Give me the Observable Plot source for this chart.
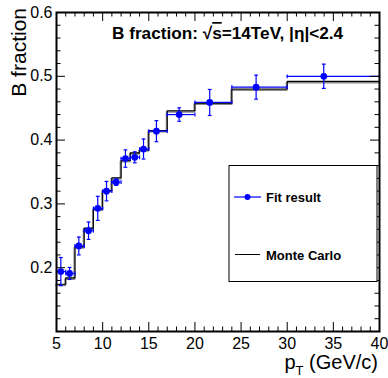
<!DOCTYPE html>
<html>
<head>
<meta charset="utf-8">
<script src="https://cdn.jsdelivr.net/npm/d3@7"></script>
<script src="https://cdn.jsdelivr.net/npm/@observablehq/plot@0.6"></script>
<style>
  html, body { margin: 0; padding: 0; background: #fff; }
  svg { display: block; }
</style>
</head>
<body>
<div id="chart"></div>
<script>
// ---- data ----
const binLo  = [5, 6, 7, 8, 9, 10, 11, 12, 13, 14, 15, 17, 20, 24, 30];
const binHi  = [6, 7, 8, 9, 10, 11, 12, 13, 14, 15, 17, 20, 24, 30, 40];
const ptMean = [5.47, 6.42, 7.42, 8.47, 9.47, 10.42, 11.47, 12.47, 13.48, 14.43, 15.83, 18.29, 21.6, 26.63, 33.96];
const fitVal = [0.194, 0.191, 0.234, 0.258, 0.293, 0.320, 0.334, 0.371, 0.373, 0.386, 0.414, 0.440, 0.459, 0.483, 0.500];
const fitErr = [0.022, 0.0094, 0.014, 0.0136, 0.0188, 0.0152, 0.005, 0.0136, 0.0086, 0.0157, 0.0165, 0.0105, 0.0204, 0.0188, 0.019];
const mcVal  = [0.174, 0.184, 0.233, 0.262, 0.292, 0.321, 0.341, 0.368, 0.380, 0.385, 0.415, 0.446, 0.458, 0.480, 0.492];
const xTicks = [5, 10, 15, 20, 25, 30, 35, 40];
const yTicks = [0.2, 0.3, 0.4, 0.5, 0.6];

const blue = "#0000ff";
const W = 388, H = 378;
const mt = 12, mr = 9, mb = 47, ml = 56;
const fh = H - mt - mb, fw = W - ml - mr;

const rows = ptMean.map((x, i) => ({x, y: fitVal[i], e: fitErr[i], lo: binLo[i], hi: binHi[i]}));
const mcRows = binLo.map((lo, i) => ({x: lo, y: mcVal[i]}));
mcRows.push({x: binHi[binHi.length - 1], y: mcVal[mcVal.length - 1]});

const xMinor = d3.range(5, 41, 1).filter(v => !xTicks.includes(v));
const yMinor = d3.range(0.12, 0.6, 0.02).filter(v => Math.abs(Math.round(v * 10) - v * 10) > 1e-6);

const vbar = {draw(ctx, size) { const r = Math.sqrt(size / Math.PI); ctx.moveTo(0, -r); ctx.lineTo(0, r); }};
const hbar = {draw(ctx, size) { const r = Math.sqrt(size / Math.PI); ctx.moveTo(-r, 0); ctx.lineTo(r, 0); }};

const capsX = rows.flatMap(d => [{x: d.lo, y: d.y}, {x: d.hi, y: d.y}]);
const capsY = rows.flatMap(d => [{x: d.x, y: d.y - d.e}, {x: d.x, y: d.y + d.e}]);

const font = "'Liberation Sans', Arial, Helvetica, sans-serif";

const svg = Plot.plot({
  width: W, height: H,
  marginTop: mt, marginRight: mr, marginBottom: mb, marginLeft: ml,
  style: {fontFamily: font, fontSize: "16px", color: "black", background: "white"},
  x: {domain: [5, 40]},
  y: {domain: [0.1, 0.6]},
  marks: [
    // MC histogram (shadow + line)
    Plot.line(mcRows, {x: "x", y: "y", curve: "step-after", stroke: "#8a8a8a", strokeWidth: 2, dy: 1, dx: -0.5}),
    Plot.line(mcRows, {x: "x", y: "y", curve: "step-after", stroke: "black", strokeWidth: 1.1}),
    // fit result error bars
    Plot.ruleY(rows, {x1: "lo", x2: "hi", y: "y", stroke: blue, strokeWidth: 1.2}),
    Plot.ruleX(rows, {x: "x", y1: d => d.y - d.e, y2: d => d.y + d.e, stroke: blue, strokeWidth: 1.2}),
    Plot.dot(capsX, {x: "x", y: "y", symbol: vbar, r: 1.9, fill: "none", stroke: blue, strokeWidth: 1.2}),
    Plot.dot(capsY, {x: "x", y: "y", symbol: hbar, r: 1.9, fill: "none", stroke: blue, strokeWidth: 1.2}),
    Plot.dot(rows, {x: "x", y: "y", r: 3.4, fill: blue}),
    // inward ticks on all four sides
    Plot.ruleX(xTicks, {insetTop: fh - 9, stroke: "black"}),
    Plot.ruleX(xMinor, {insetTop: fh - 4.5, stroke: "black"}),
    Plot.ruleX(xTicks, {insetBottom: fh - 9, stroke: "black"}),
    Plot.ruleX(xMinor, {insetBottom: fh - 4.5, stroke: "black"}),
    Plot.ruleY(yTicks, {insetRight: fw - 9, stroke: "black"}),
    Plot.ruleY(yMinor, {insetRight: fw - 4.5, stroke: "black"}),
    Plot.ruleY(yTicks, {insetLeft: fw - 9, stroke: "black"}),
    Plot.ruleY(yMinor, {insetLeft: fw - 4.5, stroke: "black"}),
    Plot.frame({stroke: "black", strokeWidth: 2}),
    Plot.axisX({ticks: xTicks, tickSize: 0, tickPadding: 6, fontSize: 16, label: null}),
    Plot.axisY({ticks: yTicks, tickSize: 0, tickPadding: 4, fontSize: 16, tickFormat: d3.format(".1f"), label: null})
  ]
});

const s = d3.select(svg);

// title inside the frame
const title = s.append("text")
  .attr("x", 112).attr("y", 39)
  .attr("text-anchor", "start")
  .attr("font-family", font).attr("font-weight", "bold").attr("font-size", 17.2)
  .attr("fill", "black");
title.append("tspan").text("B fraction: \u221A");
title.append("tspan").attr("text-decoration", "overline").style("text-decoration", "overline").text("s");
title.append("tspan").text("=14TeV, |\u03B7|<2.4");

// y axis label
s.append("text")
  .attr("transform", "translate(26,8) rotate(-90)")
  .attr("text-anchor", "end")
  .attr("font-family", font).attr("font-size", 21)
  .attr("fill", "black")
  .text("B fraction");

// x axis label
const xl = s.append("text")
  .attr("x", 378).attr("y", 369)
  .attr("text-anchor", "end")
  .attr("font-family", font).attr("font-size", 20)
  .attr("fill", "black");
xl.append("tspan").text("p");
xl.append("tspan").attr("font-size", 13).attr("dy", 6).text("T");
xl.append("tspan").attr("dy", -6).text(" (GeV/c)");

// legend
const lg = s.append("g").attr("text-anchor", "start");
lg.append("rect").attr("x", 229).attr("y", 165.5).attr("width", 148).attr("height", 116)
  .attr("fill", "white").attr("stroke", "black").attr("stroke-width", 1);
lg.append("line").attr("x1", 234).attr("x2", 261).attr("y1", 197).attr("y2", 197)
  .attr("stroke", blue).attr("stroke-width", 1.2);
lg.append("circle").attr("cx", 247.5).attr("cy", 197).attr("r", 3).attr("fill", blue);
lg.append("text").attr("x", 266).attr("y", 201.5).attr("text-anchor", "start")
  .attr("font-family", font).attr("font-weight", "bold").attr("font-size", 13).attr("fill", "black")
  .text("Fit result");
lg.append("line").attr("x1", 235).attr("x2", 260).attr("y1", 254.5).attr("y2", 254.5)
  .attr("stroke", "black").attr("stroke-width", 1);
lg.append("text").attr("x", 266).attr("y", 259.5).attr("text-anchor", "start")
  .attr("font-family", font).attr("font-weight", "bold").attr("font-size", 13).attr("fill", "black")
  .text("Monte Carlo");

document.getElementById("chart").appendChild(svg);
</script>
</body>
</html>
